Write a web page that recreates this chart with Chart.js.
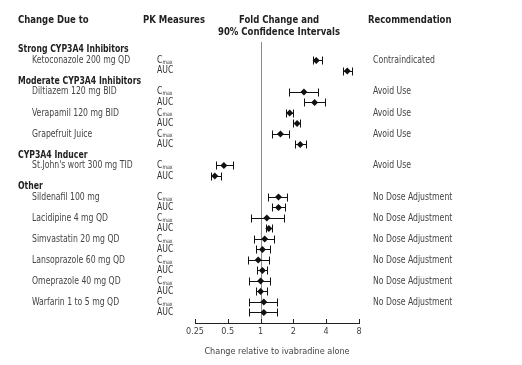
<!DOCTYPE html>
<html>
<head>
<meta charset="utf-8">
<script src="https://cdn.jsdelivr.net/npm/chart.js@4.4.0/dist/chart.umd.min.js"></script>
<style>
  body { margin: 0; background: #fff; }
  #wrap { width: 522px; height: 365px; }
</style>
</head>
<body>
<div id="wrap"><canvas id="forest"></canvas></div>
<script>
// Start Data
const groups = ['Strong CYP3A4 Inhibitors', 'Moderate CYP3A4 Inhibitors', 'CYP3A4 Inducer', 'Other'];
const drugs = ['Ketoconazole 200 mg QD', 'Diltiazem 120 mg BID', 'Verapamil 120 mg BID', 'Grapefruit Juice',
  "St.John's wort 300 mg TID", 'Sildenafil 100 mg', 'Lacidipine 4 mg QD', 'Simvastatin 20 mg QD',
  'Lansoprazole 60 mg QD', 'Omeprazole 40 mg QD', 'Warfarin 1 to 5 mg QD'];
const drugGroup = [0, 1, 1, 1, 2, 3, 3, 3, 3, 3, 3];
const recommendation = ['Contraindicated', 'Avoid Use', 'Avoid Use', 'Avoid Use', 'Avoid Use',
  'No Dose Adjustment', 'No Dose Adjustment', 'No Dose Adjustment', 'No Dose Adjustment',
  'No Dose Adjustment', 'No Dose Adjustment'];

const cmaxRatio = [3.24, 2.50, 1.85, 1.52, 0.46, 1.46, 1.14, 1.09, 0.95, 1.00, 1.07];
const cmaxLow   = [3.03, 1.82, 1.70, 1.28, 0.39, 1.18, 0.81, 0.87, 0.76, 0.78, 0.78];
const cmaxHigh  = [3.66, 3.36, 1.98, 1.82, 0.56, 1.74, 1.63, 1.32, 1.19, 1.23, 1.42];
const aucRatio  = [6.24, 3.13, 2.16, 2.31, 0.38, 1.46, 1.19, 1.04, 1.04, 1.00, 1.07];
const aucLow    = [5.69, 2.50, 1.98, 2.05, 0.35, 1.28, 1.11, 0.90, 0.92, 0.90, 0.78];
const aucHigh   = [6.88, 3.92, 2.31, 2.59, 0.43, 1.66, 1.28, 1.21, 1.14, 1.15, 1.42];

const xTicks = [0.25, 0.5, 1, 2, 4, 8];
const xTickLabels = ['0.25', '0.5', '1', '2', '4', '8'];
// End Data

// Start Row layout (group header row, then Cmax + AUC rows per drug)
const groupRow = [];
const cmaxRow = [];
const aucRow = [];
let row = -1;
drugs.forEach(function(d, i){
  if (i === 0 || drugGroup[i] !== drugGroup[i - 1]) {
    groupRow[drugGroup[i]] = row;
    row++;
  }
  cmaxRow.push(row);
  aucRow.push(row + 1);
  row += 2;
});

const points = [];
const bars = [];
drugs.forEach(function(d, i){
  points.push({x: cmaxRatio[i], y: cmaxRow[i]});
  points.push({x: aucRatio[i], y: aucRow[i]});
  bars.push({lo: cmaxLow[i], hi: cmaxHigh[i], y: cmaxRow[i]});
  bars.push({lo: aucLow[i], hi: aucHigh[i], y: aucRow[i]});
});
// End Row layout

const FONT = "'Liberation Sans Narrow', 'Arial Narrow', 'DejaVu Sans Condensed', sans-serif";
const SQUEEZE = 0.86;

// draw text squeezed horizontally to look like a narrow font
function narrowText(c, txt, x, y){
  c.save();
  c.translate(x, y);
  c.scale(SQUEEZE, 1);
  c.fillText(txt, 0, 0);
  c.restore();
}

// Start forest plugin
const forestPlugin = {
  id: 'forest',
  beforeDatasetsDraw: function(chart){
    const c = chart.ctx;
    const xs = chart.scales.x;
    const ys = chart.scales.y;
    const area = chart.chartArea;

    // reference line at 1
    c.save();
    c.strokeStyle = '#8a8a8a';
    c.lineWidth = 1;
    const x1 = Math.round(xs.getPixelForValue(1)) + 0.5;
    c.beginPath();
    c.moveTo(x1, area.top);
    c.lineTo(x1, area.bottom);
    c.stroke();

    // confidence intervals
    c.strokeStyle = '#111';
    bars.forEach(function(b){
      const y = Math.round(ys.getPixelForValue(b.y)) + 0.5;
      const a = Math.round(xs.getPixelForValue(b.lo)) + 0.5;
      const z = Math.round(xs.getPixelForValue(b.hi)) + 0.5;
      c.beginPath();
      c.moveTo(a, y); c.lineTo(z, y);
      c.moveTo(a, y - 4); c.lineTo(a, y + 4);
      c.moveTo(z, y - 4); c.lineTo(z, y + 4);
      c.stroke();
    });

    // axis ticks pointing up
    c.strokeStyle = '#222';
    xTicks.forEach(function(t){
      const x = Math.round(xs.getPixelForValue(t)) + 0.5;
      c.beginPath();
      c.moveTo(x, area.bottom);
      c.lineTo(x, area.bottom - 4);
      c.stroke();
    });
    c.restore();
  },
  afterDraw: function(chart){
    const c = chart.ctx;
    const ys = chart.scales.y;
    c.save();
    c.textBaseline = 'middle';

    // column headers
    c.fillStyle = '#222';
    c.font = 'bold 11px ' + FONT;
    c.textAlign = 'left';
    narrowText(c, 'Change Due to', 18, 20);
    narrowText(c, 'PK Measures', 143, 20);
    narrowText(c, 'Recommendation', 368, 20);
    c.textAlign = 'center';
    narrowText(c, 'Fold Change and', 279, 20);
    narrowText(c, '90% Confidence Intervals', 279, 32);

    // group headers
    c.textAlign = 'left';
    c.font = 'bold 10px ' + FONT;
    groups.forEach(function(g, i){
      narrowText(c, g, 18, ys.getPixelForValue(groupRow[i]));
    });

    // drug names, PK labels, recommendations
    drugs.forEach(function(d, i){
      const yc = ys.getPixelForValue(cmaxRow[i]);
      const ya = ys.getPixelForValue(aucRow[i]);
      c.fillStyle = '#444';
      c.font = '10px ' + FONT;
      narrowText(c, d, 32, yc);
      narrowText(c, recommendation[i], 373, yc);
      c.fillStyle = '#333';
      narrowText(c, 'C', 157, yc);
      const w = c.measureText('C').width * SQUEEZE;
      c.font = '6px ' + FONT;
      narrowText(c, 'max', 157 + w, yc + 2);
      c.font = '10px ' + FONT;
      narrowText(c, 'AUC', 157, ya);
    });
    c.restore();
  }
};
// End forest plugin

const ctx = document.getElementById('forest');
new Chart(ctx, {
  type: 'scatter',
  data: {
    datasets: [{
      data: points,
      pointStyle: 'rectRot',
      radius: 3.5,
      backgroundColor: '#111',
      borderColor: '#111',
      borderWidth: 0
    }]
  },
  plugins: [forestPlugin],
  options: {
    responsive: true,
    maintainAspectRatio: false,
    animation: false,
    layout: { padding: { left: 195, right: 163, top: 42, bottom: 8 } },
    plugins: { legend: { display: false }, tooltip: { enabled: false } },
    scales: {
      x: {
        type: 'logarithmic',
        min: 0.25,
        max: 8,
        afterBuildTicks: function(s){
          s.ticks = xTicks.map(function(v){ return {value: v}; });
        },
        afterFit: function(s){ s.height = 34; },
        grid: { display: false, drawTicks: false },
        border: { display: true, color: '#222', width: 1 },
        ticks: {
          autoSkip: false,
          maxRotation: 0,
          padding: 3,
          color: '#444',
          font: { family: FONT, size: 9 },
          callback: function(v){
            const i = xTicks.indexOf(v);
            return i >= 0 ? xTickLabels[i] : '';
          }
        },
        title: {
          display: true,
          text: 'Change relative to ivabradine alone',
          color: '#444',
          font: { family: FONT, size: 9 },
          padding: { top: 2, bottom: 0 }
        }
      },
      y: {
        type: 'linear',
        display: false,
        reverse: true,
        min: -1.75,
        max: 25
      }
    }
  }
});
</script>
</body>
</html>
